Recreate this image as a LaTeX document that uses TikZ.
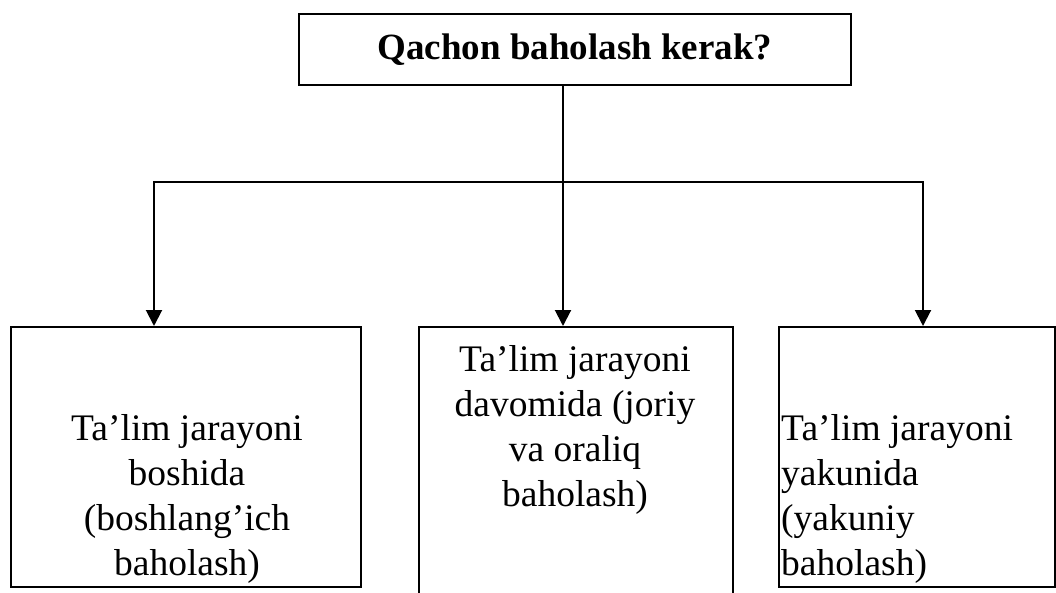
\documentclass[tikz,border=0pt]{standalone}
\usepackage{fontspec}
\setmainfont{Liberation Serif}
\usetikzlibrary{arrows.meta}
\begin{document}
\begin{tikzpicture}[x=1pt,y=-1pt,
  frame/.style={draw, line width=2pt, rectangle, inner sep=0pt, anchor=north west},
  body/.style={font=\fontsize{37.5}{45}\selectfont, inner sep=0pt},
  link/.style={line width=2pt, line cap=rect},
  arr/.style={line width=2pt, -{Triangle[length=16pt,width=16pt]}}]
\useasboundingbox (0,0) rectangle (1056,593);
\clip (0,0) rectangle (1056,593);

% boxes
\node[frame, minimum width=552pt, minimum height=71pt] (top) at (298,13) {};
\node[frame, minimum width=350pt, minimum height=260pt] (lbox) at (10,326) {};
\node[frame, minimum width=314pt, minimum height=300pt] (mbox) at (418,326) {};
\node[frame, minimum width=276pt, minimum height=260pt] (rbox) at (778,326) {};

% texts
\node[body, font=\fontsize{37}{44}\selectfont\bfseries] (title) at (top.center) {Qachon baholash kerak?};
\node[body, align=center, anchor=north] (ltext) at (187,414)
  {Ta’lim jarayoni\\boshida\\(boshlang’ich\\baholash)};
\node[body, align=center, anchor=north] (mtext) at (575,345)
  {Ta’lim jarayoni\\davomida (joriy\\va oraliq\\baholash)};
\node[body, align=left, anchor=north west] (rtext) at (781,414)
  {Ta’lim jarayoni\\yakunida\\(yakuniy\\baholash)};

% connectors
\coordinate (hub) at (563,182);
\coordinate (jl) at (154,182);
\coordinate (jr) at (923,182);
\draw[link] (top.south -| hub) -- (hub);
\draw[link] (jl) -- (jr);
\draw[arr] (jl) -- (jl |- lbox.north);
\draw[arr] (hub) -- (hub |- mbox.north);
\draw[arr] (jr) -- (jr |- rbox.north);
\end{tikzpicture}
\end{document}
